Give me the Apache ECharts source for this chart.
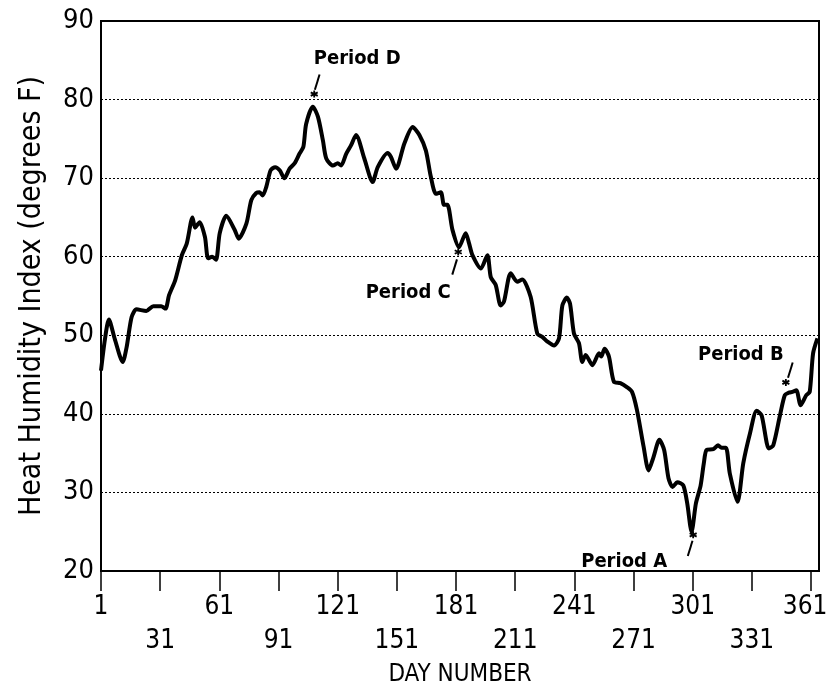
<!DOCTYPE html>
<html>
<head>
<meta charset="utf-8">
<script src="https://cdn.jsdelivr.net/npm/echarts@6/dist/echarts.min.js"></script>
<style>
  html, body { margin: 0; padding: 0; background: #fff; }
  #main { width: 828px; height: 689px; }
</style>
</head>
<body>
<div id="main"></div>
<script>
// day of year and heat humidity index
var days = [1, 3, 5, 8, 12, 14, 16.5, 19, 24, 27.5, 31.5, 33.7, 35.5, 38.6, 42, 44.5, 47.4, 48.7, 51, 53.7,
  55.3, 57.4, 59.3, 61.2, 64.5, 68.8, 70.8, 74.7, 77.2, 79.7, 81.4, 83, 84.8, 87, 89.3, 91.6, 94, 96.6, 99.2, 101.6,
  103.6, 105, 108.4, 111, 113.5, 115.2, 118.6, 121, 122.7, 125.3, 127.8, 130.3, 134.5, 138.7, 141.3, 146.3, 148, 150.6, 154.8, 159,
  162.4, 165.7, 168.2, 170.8, 173.3, 174.9, 176.6, 179.2, 182.5, 185.9, 187.6, 189.3, 193.6, 196.9, 198.6, 201.1, 203.6, 205.3, 208.7, 212,
  214.6, 218.8, 222.2, 224.7, 227.3, 230.7, 233.2, 234.9, 237.2, 238.8, 240.8, 243.3, 245, 246.7, 250.1, 253.5, 254.6, 256.3, 258.5, 261,
  264.3, 267.6, 270.2, 272.7, 276.1, 278.6, 281.1, 284.1, 286.5, 288.7, 290.8, 293.2, 296.2, 298.2, 300.4, 302.6, 305, 306.6, 308, 311.4,
  313.8, 315.6, 317.8, 319.8, 323.7, 326.6, 330, 333.4, 335.9, 339.6, 341.8, 345.2, 347.7, 349.7, 351.5, 353.5, 355.7, 358.6, 360.3, 362, 364.2];
var hhi = [45.5, 49.5, 52.0, 49.5, 46.6, 48.5, 52.3, 53.3, 53.1, 53.7, 53.7, 53.4, 55.1, 57.0, 60.2, 61.7, 65.0, 63.7, 64.4, 62.5,
  59.8, 60.0, 59.6, 63.0, 65.2, 63.4, 62.3, 64.2, 67.2, 68.1, 68.2, 67.8, 68.9, 71.0, 71.4, 71.0, 70.0, 71.2, 71.9, 73.1,
  74.0, 76.9, 79.1, 77.8, 74.8, 72.5, 71.6, 71.9, 71.6, 73.1, 74.2, 75.5, 72.5, 69.5, 71.4, 73.2, 72.7, 71.2, 74.4, 76.5,
  75.5, 73.5, 70.2, 68.0, 68.2, 66.6, 66.6, 63.4, 61.2, 63.0, 61.7, 60.2, 58.5, 60.2, 57.4, 56.4, 53.8, 54.3, 57.9, 56.8,
  57.1, 54.9, 50.2, 49.8, 49.2, 48.7, 49.6, 53.8, 54.8, 54.0, 50.2, 49.0, 46.6, 47.5, 46.2, 47.7, 47.3, 48.3, 47.3, 44.1,
  43.9, 43.4, 42.8, 40.5, 35.8, 32.8, 34.5, 36.7, 35.4, 31.8, 30.7, 31.3, 30.9, 28.6, 25.0, 28.6, 30.9, 33.7, 35.4, 35.5,
  36.0, 35.7, 35.7, 32.4, 28.8, 33.7, 37.5, 40.4, 39.8, 35.6, 36.0, 39.8, 42.4, 42.7, 42.8, 43.0, 41.1, 42.4, 42.8, 47.7, 49.6];

var dayTicks = [1, 31, 61, 91, 121, 151, 181, 211, 241, 271, 301, 331, 361];

// marked periods (position of the asterisk)
var periodNames = ['Period A', 'Period B', 'Period C', 'Period D'];
var periodDays = [301.2, 348.2, 182.1, 109.1];
var periodVals = [24.6, 44.0, 60.6, 80.7];

// pixel offsets of the dash and the text from each asterisk
var dashOffsets = [[-3, 13.5], [4.5, -12.3], [-3.6, 15], [3, -12]];
var textOffsets = [[-69, 27], [-45, -27.5], [-50, 41], [43, -35]];

var narrow = '"DejaVu Sans Condensed", "Liberation Sans", sans-serif';

var lineData = days.map(function (d, i) { return [d, hhi[i]]; });
var starData = periodDays.map(function (d, i) { return [d, periodVals[i]]; });
var dashData = periodDays.map(function (d, i) {
  return { value: [d, periodVals[i]], symbolOffset: dashOffsets[i] };
});
var textData = periodDays.map(function (d, i) {
  return { value: [d, periodVals[i]], name: periodNames[i], label: { offset: textOffsets[i] } };
});

var myChart = echarts.init(document.getElementById('main'));
var option = {
  backgroundColor: '#fff',
  animation: false,
  grid: {
    left: 101, right: 9, top: 21, bottom: 118,
    show: true, borderColor: '#000', borderWidth: 2,
    outerBoundsMode: 'none'
  },
  xAxis: {
    type: 'value',
    min: 1,
    max: 365,
    name: 'DAY NUMBER',
    nameLocation: 'middle',
    nameGap: 88,
    nameTextStyle: { fontFamily: narrow, fontSize: 24, color: '#000' },
    axisLine: { show: true, lineStyle: { color: '#000', width: 2 } },
    axisTick: { show: true, customValues: dayTicks, length: 20, lineStyle: { color: '#000', width: 1.5 } },
    axisLabel: {
      customValues: dayTicks,
      margin: 19,
      fontFamily: narrow,
      fontSize: 26,
      lineHeight: 34,
      color: '#000',
      verticalAlign: 'top',
      rich: {
        last: { fontFamily: narrow, fontSize: 26, color: '#000', padding: [0, 12, 0, 0] }
      },
      formatter: function (v) {
        if (v === 361) return '{last|' + v + '}';
        return ((v - 1) / 30) % 2 === 1 ? '\n' + v : String(v);
      }
    },
    splitLine: { show: false }
  },
  yAxis: {
    type: 'value',
    min: 20,
    max: 90,
    interval: 10,
    name: 'Heat Humidity Index (degrees F)',
    nameLocation: 'middle',
    nameGap: 54,
    nameRotate: 90,
    nameTextStyle: { fontFamily: narrow, fontSize: 30, color: '#000' },
    axisLine: { show: true, lineStyle: { color: '#000', width: 2 } },
    axisTick: { show: false },
    axisLabel: { fontFamily: narrow, fontSize: 27, color: '#000', margin: 7 },
    splitLine: { show: true, lineStyle: { color: '#000', width: 1, type: [2, 2] } }
  },
  series: [
    {
      name: 'HHI',
      type: 'line',
      data: lineData,
      smooth: 0.25,
      showSymbol: false,
      lineStyle: { color: '#000', width: 4 }
    },
    {
      name: 'stars',
      type: 'scatter',
      data: starData,
      symbol: 'path://M0,-1L0,1M-0.87,-0.5L0.87,0.5M-0.87,0.5L0.87,-0.5',
      symbolSize: 7,
      itemStyle: { color: 'none', borderColor: '#000', borderWidth: 1.8, opacity: 1 },
      z: 5
    },
    {
      name: 'dashes',
      type: 'scatter',
      data: dashData,
      symbol: 'rect',
      symbolSize: [2, 16],
      symbolRotate: -17,
      itemStyle: { color: '#000', opacity: 1 },
      z: 5
    },
    {
      name: 'labels',
      type: 'scatter',
      data: textData,
      symbolSize: 0,
      itemStyle: { opacity: 1 },
      label: {
        show: true,
        position: 'inside',
        formatter: '{b}',
        fontFamily: narrow,
        fontWeight: 'bold',
        fontSize: 20,
        color: '#000',
        opacity: 1,
        textBorderWidth: 0
      },
      z: 6
    }
  ]
};
myChart.setOption(option);
</script>
</body>
</html>
